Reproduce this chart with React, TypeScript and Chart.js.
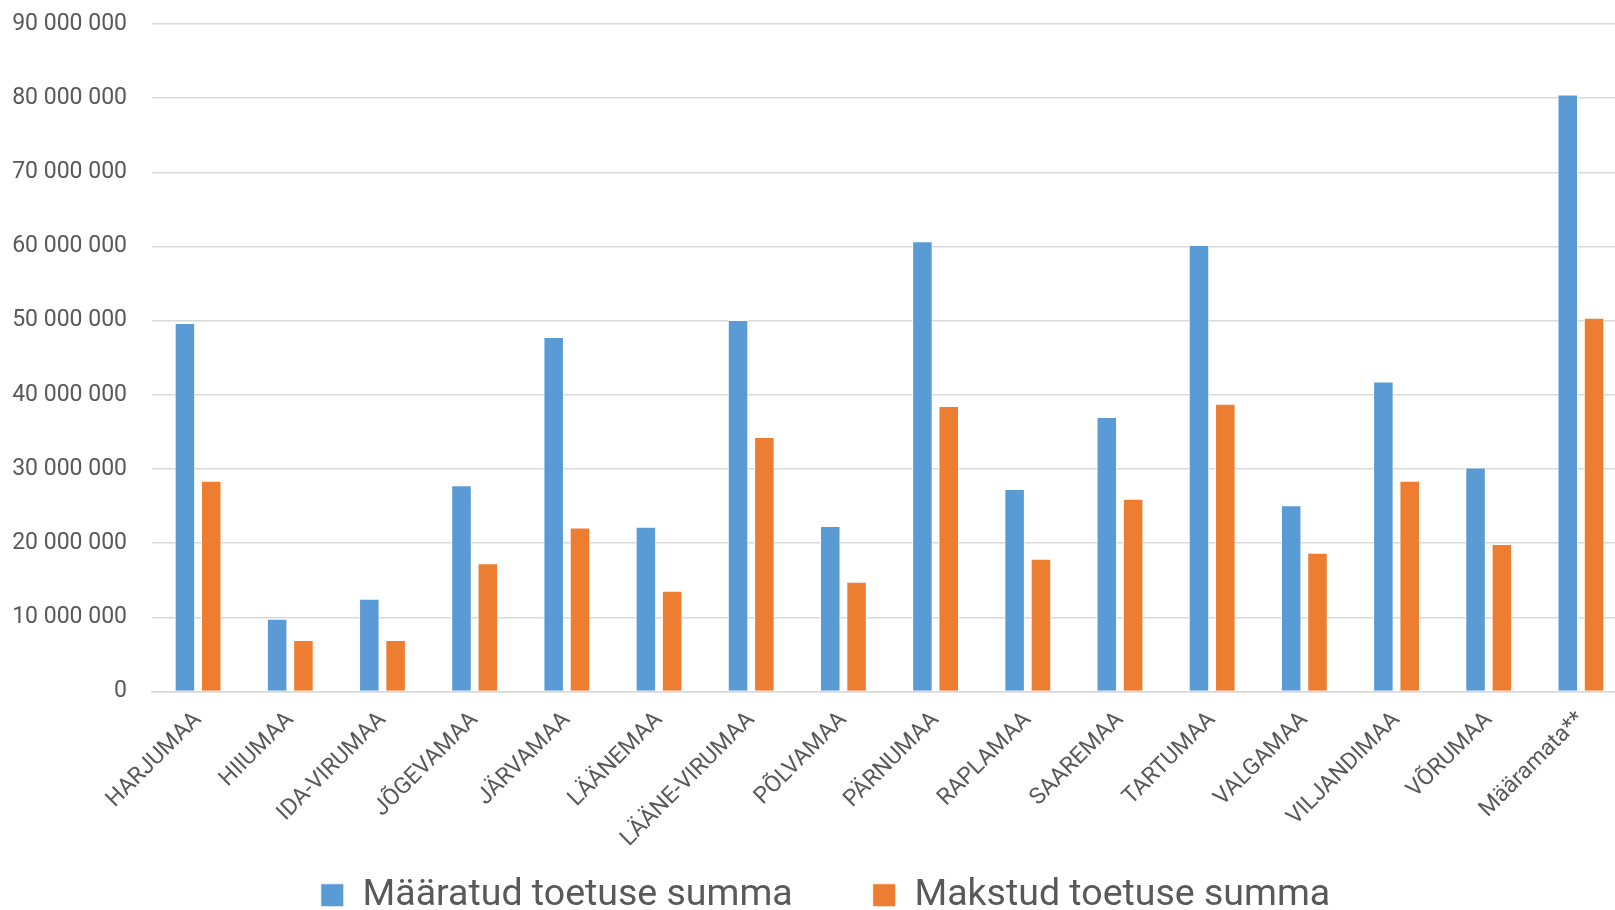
import React, { useEffect, useRef } from "react";
import { Chart, registerables } from "chart.js";

Chart.register(...registerables);

const categories = [
  "HARJUMAA",
  "HIIUMAA",
  "IDA-VIRUMAA",
  "JÕGEVAMAA",
  "JÄRVAMAA",
  "LÄÄNEMAA",
  "LÄÄNE-VIRUMAA",
  "PÕLVAMAA",
  "PÄRNUMAA",
  "RAPLAMAA",
  "SAAREMAA",
  "TARTUMAA",
  "VALGAMAA",
  "VILJANDIMAA",
  "VÕRUMAA",
  "Määramata**",
];

const maaratudSumma = [
  49700000, 9800000, 12500000, 27800000, 47800000, 22200000, 50100000, 22300000,
  60700000, 27300000, 37000000, 60200000, 25100000, 41800000, 30200000, 80500000,
];

const makstudSumma = [
  28400000, 6960000, 6960000, 17300000, 22100000, 13600000, 34300000, 14800000,
  38500000, 17900000, 26000000, 38800000, 18700000, 28400000, 19900000, 50400000,
];

const seriesLabels = ["Määratud toetuse summa", "Makstud toetuse summa"];

const yMin = 0;
const yMax = 90000000;
const yStep = 10000000;

const BLUE = "#5B9BD5";
const ORANGE = "#ED7D31";
const GRID = "#D9D9D9";
const TEXT = "#595959";
const FONT = "Roboto, 'Noto Sans', sans-serif";

const CANVAS_W = 1650;
const CANVAS_H = 924;

function fmt(v: number): string {
  return String(Math.round(v)).replace(/\B(?=(\d{3})+(?!\d))/g, " ");
}

function fixScale(scale: any) {
  scale._computeLabelArea = () => undefined;
  scale.paddingTop = 0;
  scale.paddingBottom = 0;
  scale.paddingLeft = 0;
  scale.paddingRight = 0;
}

export default function App() {
  const ref = useRef<HTMLCanvasElement | null>(null);

  useEffect(() => {
    const canvas = ref.current;
    if (!canvas) return;
    const chart = new Chart(canvas, {
      type: "bar",
      data: {
        labels: categories,
        datasets: [
          {
            label: seriesLabels[0],
            data: maaratudSumma,
            backgroundColor: BLUE,
            borderColor: "rgba(255,255,255,0.85)",
            borderWidth: 1,
            categoryPercentage: 0.571,
            barPercentage: 0.78,
          },
          {
            label: seriesLabels[1],
            data: makstudSumma,
            backgroundColor: ORANGE,
            borderColor: "rgba(255,255,255,0.85)",
            borderWidth: 1,
            categoryPercentage: 0.571,
            barPercentage: 0.78,
          },
        ],
      },
      options: {
        animation: false,
        responsive: false,
        devicePixelRatio: 1,
        layout: { padding: { left: 24, right: 23, top: 24, bottom: 0 } },
        plugins: {
          tooltip: { enabled: false },
          legend: {
            position: "bottom",
            labels: {
              color: TEXT,
              font: { family: FONT, size: 37.5 },
              boxWidth: 23,
              boxHeight: 23,
              padding: 80,
            },
          },
        },
        scales: {
          x: {
            grid: { display: false, drawTicks: false },
            border: { display: true, color: GRID, width: 1.5 },
            ticks: {
              color: TEXT,
              font: { family: FONT, size: 23 },
              minRotation: 45,
              maxRotation: 45,
              autoSkip: false,
              padding: 15,
            },
            afterFit: (scale: any) => {
              scale.height = 105;
              fixScale(scale);
            },
          },
          y: {
            min: yMin,
            max: yMax,
            grid: { color: GRID, lineWidth: 1.4, drawTicks: false },
            border: { display: false },
            ticks: {
              stepSize: yStep,
              color: TEXT,
              font: { family: FONT, size: 23 },
              padding: 25,
              callback: (v: any) => fmt(Number(v)),
            },
            afterFit: (scale: any) => {
              scale.width = 128;
              fixScale(scale);
            },
          },
        },
      },
    });
    return () => chart.destroy();
  }, []);

  return (
    <div
      style={{
        position: "fixed",
        left: 0,
        top: 0,
        width: 1615,
        height: 910,
        overflow: "hidden",
        background: "#ffffff",
      }}
    >
      <canvas
        ref={ref}
        width={CANVAS_W}
        height={CANVAS_H}
        style={{ width: CANVAS_W, height: CANVAS_H, display: "block" }}
      />
    </div>
  );
}
